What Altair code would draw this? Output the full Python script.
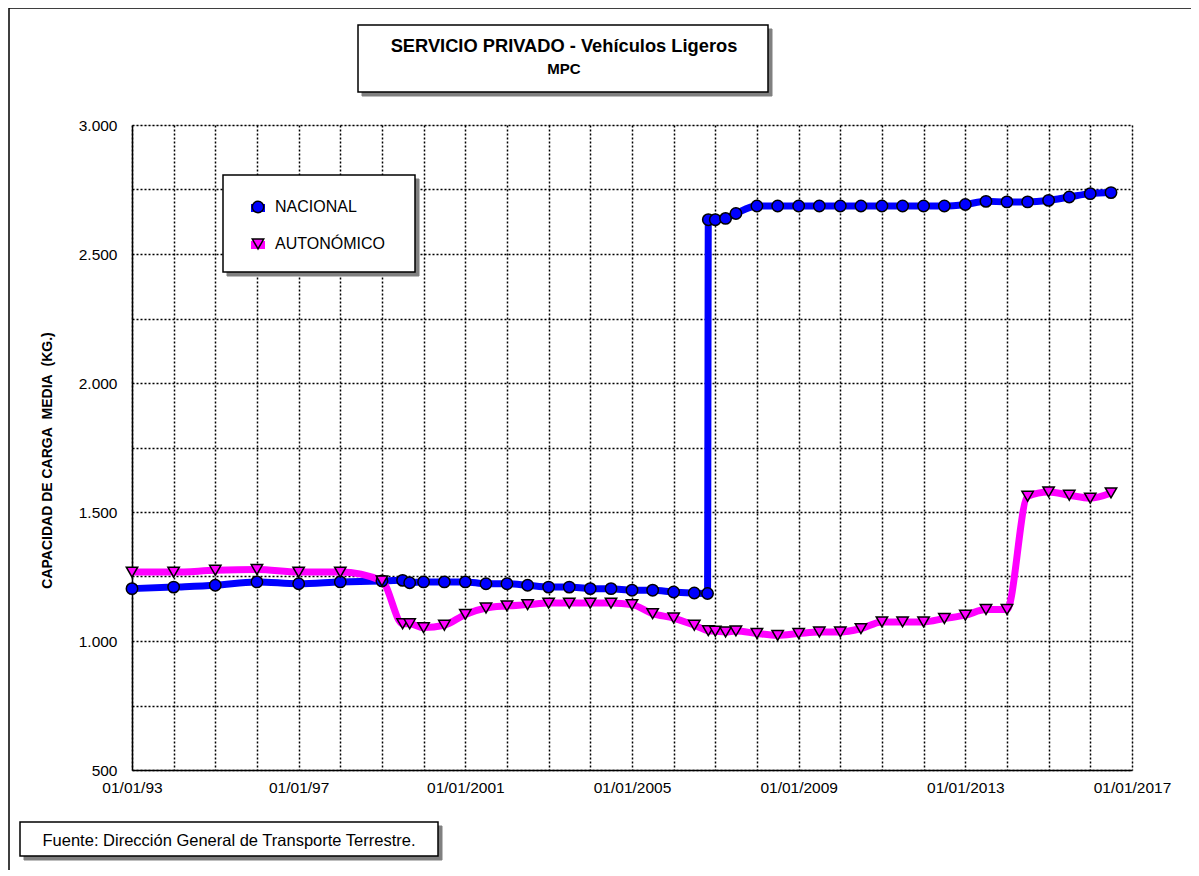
import altair as alt
import pandas as pd

# ---------------- data ----------------
nac_dates = [
    "1993-01-01", "1994-01-01", "1995-01-01", "1996-01-01", "1997-01-01", "1998-01-01",
    "1999-01-01", "1999-07-01", "1999-09-01", "2000-01-01", "2000-07-01",
    "2001-01-01", "2001-07-01", "2002-01-01", "2002-07-01", "2003-01-01", "2003-07-01",
    "2004-01-01", "2004-07-01", "2005-01-01", "2005-07-01", "2006-01-01", "2006-07-01",
    "2006-10-25", "2006-11-01", "2007-01-01", "2007-04-01", "2007-07-01",
    "2008-01-01", "2008-07-01", "2009-01-01", "2009-07-01", "2010-01-01", "2010-07-01",
    "2011-01-01", "2011-07-01", "2012-01-01", "2012-07-01", "2013-01-01", "2013-07-01",
    "2014-01-01", "2014-07-01", "2015-01-01", "2015-07-01", "2016-01-01", "2016-07-01",
]
nac_values = [
    1203, 1209, 1216, 1229, 1222, 1229,
    1233, 1235, 1226, 1229, 1229,
    1229, 1222, 1222, 1216, 1209, 1209,
    1203, 1203, 1197, 1197, 1190, 1186,
    1184, 2633, 2633, 2638, 2657,
    2686, 2686, 2686, 2686, 2686, 2686,
    2686, 2686, 2686, 2686, 2692, 2704,
    2702, 2702, 2708, 2721, 2734, 2738,
]

aut_dates = [
    "1993-01-01", "1994-01-01", "1995-01-01", "1996-01-01", "1997-01-01", "1998-01-01",
    "1999-01-01", "1999-07-01", "1999-09-01", "2000-01-01", "2000-07-01",
    "2001-01-01", "2001-07-01", "2002-01-01", "2002-07-01", "2003-01-01", "2003-07-01",
    "2004-01-01", "2004-07-01", "2005-01-01", "2005-07-01", "2006-01-01", "2006-07-01",
    "2006-11-01", "2007-01-01", "2007-04-01", "2007-07-01",
    "2008-01-01", "2008-07-01", "2009-01-01", "2009-07-01", "2010-01-01", "2010-07-01",
    "2011-01-01", "2011-07-01", "2012-01-01", "2012-07-01", "2013-01-01", "2013-07-01",
    "2014-01-01", "2014-07-01", "2015-01-01", "2015-07-01", "2016-01-01", "2016-07-01",
]
aut_values = [
    1267, 1267, 1274, 1277, 1267, 1267,
    1233, 1067, 1067, 1052, 1061,
    1103, 1128, 1136, 1141, 1147, 1147,
    1147, 1147, 1141, 1106, 1089, 1061,
    1040, 1038, 1035, 1039,
    1029, 1022, 1029, 1035, 1035, 1048,
    1074, 1074, 1074, 1087, 1100, 1122,
    1122, 1561, 1578, 1565, 1554, 1574,
]

series_names = ["NACIONAL", "AUTONÓMICO"]
series_colors = ["#0000ff", "#ff00ff"]
series_shapes = ["circle", "triangle-down"]

title_text = "SERVICIO PRIVADO - Vehículos Ligeros"
subtitle_text = "MPC"
y_title = "CAPACIDAD DE CARGA\u00a0\u00a0MEDIA\u00a0\u00a0(KG.)"
source_text = "Fuente: Dirección General de Transporte Terrestre."

y_ticks = list(range(500, 3001, 250))
x_years = list(range(1993, 2018))

df = pd.concat([
    pd.DataFrame({"fecha": nac_dates, "valor": nac_values, "serie": series_names[0]}),
    pd.DataFrame({"fecha": aut_dates, "valor": aut_values, "serie": series_names[1]}),
], ignore_index=True)

FONT = "Liberation Sans"

x_enc = alt.X(
    "fecha:T",
    scale=alt.Scale(
        type="utc",
        domain=[alt.DateTime(year=1993, month=1, date=1, utc=True),
                alt.DateTime(year=2017, month=1, date=1, utc=True)],
        nice=False,
    ),
    axis=alt.Axis(
        values=[alt.DateTime(year=y, month=1, date=1, utc=True) for y in x_years],
        labelExpr=("(utcyear(datum.value) - 1993) % 4 != 0 ? '' : "
                   "(utcyear(datum.value) < 2000 ? utcFormat(datum.value, '%d/%m/%y') "
                   ": utcFormat(datum.value, '%d/%m/%Y'))"),
        title=None,
        ticks=False,
        labelPadding=10,
        labelFontSize=15.5,
        labelColor="black",
        labelFont=FONT,
        labelFlush=False,
        grid=True,
        gridDash=[2, 2],
        gridColor="black",
        gridWidth=1.5,
        gridOpacity=1,
        domainColor="black",
        domainWidth=1.5,
        labelOverlap=False,
    ),
)

y_enc = alt.Y(
    "valor:Q",
    scale=alt.Scale(domain=[500, 3000], nice=False, zero=False),
    axis=alt.Axis(
        values=y_ticks,
        labelExpr="datum.value % 500 != 0 ? '' : replace(format(datum.value, ','), ',', '.')",
        title=y_title,
        titleFont=FONT,
        titleFontSize=14,
        titleFontWeight="bold",
        titleColor="black",
        titleAngle=270,
        titleX=-85,
        titleY=335,
        titleAlign="center",
        titleBaseline="middle",
        ticks=False,
        labelPadding=15,
        labelFontSize=15.5,
        labelColor="black",
        labelFont=FONT,
        labelFlush=False,
        grid=True,
        gridDash=[2, 2],
        gridColor="black",
        gridWidth=1.5,
        gridOpacity=1,
        domainColor="black",
        domainWidth=1.5,
        labelOverlap=False,
    ),
)

base = alt.Chart(df)

lines = base.mark_line(strokeWidth=7, interpolate="monotone").encode(
    x=x_enc, y=y_enc,
    stroke=alt.Stroke("serie:N", scale=alt.Scale(domain=series_names, range=series_colors), legend=None),
    detail="serie:N",
)

points = base.mark_point(filled=True, size=130, stroke="black", strokeWidth=1.5, opacity=1).encode(
    x=x_enc, y=y_enc,
    color=alt.Color("serie:N", scale=alt.Scale(domain=series_names, range=series_colors), legend=None),
    shape=alt.Shape("serie:N", scale=alt.Scale(domain=series_names, range=series_shapes), legend=None),
)

one = alt.Data(values=[{"k": 0}])


def shadow(x, x2, y, y2, off=4):
    return alt.Chart(one).mark_rect(fill="#808080", stroke="#808080", strokeWidth=1).encode(
        x=alt.value(x + off), x2=alt.value(x2 + off),
        y=alt.value(y + off), y2=alt.value(y2 + off),
    )


def box(x, x2, y, y2):
    bx = alt.Chart(one).mark_rect(fill="white", stroke="black", strokeWidth=1.5).encode(
        x=alt.value(x), x2=alt.value(x2), y=alt.value(y), y2=alt.value(y2),
    )
    return [shadow(x, x2, y, y2), bx]


def legend_entry(name, color, shape, y):
    seg = alt.Chart(one).mark_rule(strokeWidth=8, color=color).encode(
        x=alt.value(119), x2=alt.value(133), y=alt.value(y + 1),
    )
    sym = alt.Chart(one).mark_point(filled=True, size=130, stroke="black", strokeWidth=1.5,
                                    opacity=1).encode(
        x=alt.value(126), y=alt.value(y), fill=alt.value(color), shape=alt.value(shape),
    )
    lab = alt.Chart(one).mark_text(
        font=FONT, fontSize=16, color="black", align="left", baseline="middle"
    ).encode(x=alt.value(143), y=alt.value(y), text=alt.value(name))
    return [seg, sym, lab]


frame = alt.Chart(one).mark_rect(fillOpacity=0, stroke="black", strokeWidth=1.5).encode(
    x=alt.value(-123), x2=alt.value(1080), y=alt.value(-117), y2=alt.value(760),
)

title1 = alt.Chart(one).mark_text(
    font=FONT, fontSize=18.3, fontWeight="bold", color="black", align="center", baseline="middle"
).encode(x=alt.value(432), y=alt.value(-78), text=alt.value(title_text))

title2 = alt.Chart(one).mark_text(
    font=FONT, fontSize=15, fontWeight="bold", color="black", align="center", baseline="middle"
).encode(x=alt.value(432), y=alt.value(-56), text=alt.value(subtitle_text))

source = alt.Chart(one).mark_text(
    font=FONT, fontSize=16.5, color="black", align="center", baseline="middle"
).encode(x=alt.value(97), y=alt.value(716), text=alt.value(source_text))

layers = [frame, lines, points]
layers += box(226, 636, -100, -33)
layers += [title1, title2]
layers += box(91, 283, 50, 147)
layers += legend_entry(series_names[0], series_colors[0], series_shapes[0], 82)
layers += legend_entry(series_names[1], series_colors[1], series_shapes[1], 119)
layers += box(-112, 306, 697, 731)
layers += [source]

chart = alt.layer(*layers).properties(
    width=1000,
    height=645,
    padding={"left": 124, "top": 117, "right": 59, "bottom": 100},
    autosize=alt.AutoSizeParams(type="none"),
).configure_view(
    stroke="black", strokeWidth=1.5
).configure(
    font=FONT, background="white"
)

chart.save("out.html", embed_options={"renderer": "svg", "actions": False})
